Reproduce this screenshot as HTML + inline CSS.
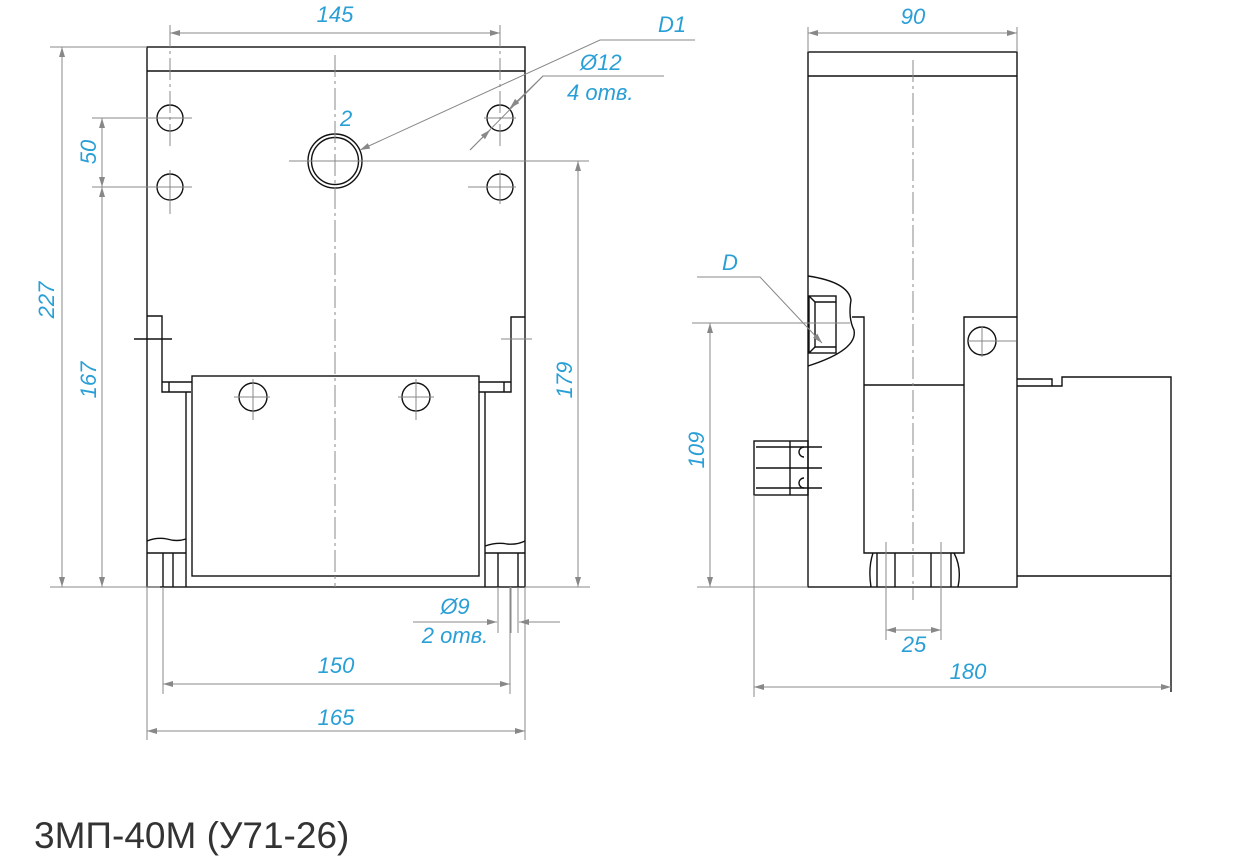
<!DOCTYPE html>
<html><head><meta charset="utf-8"><style>
html,body{margin:0;padding:0;background:#fff;}
svg{display:block}
.k{stroke:#111;stroke-width:1.4;fill:none}
.g{stroke:#888;stroke-width:1;fill:none}
.c{stroke:#888;stroke-width:1;fill:none;stroke-dasharray:22 4 3 4}
.t{fill:#2a9fd6;font-family:"Liberation Sans",sans-serif;font-style:italic;font-size:22px}
</style></head><body>
<svg width="1257" height="859" viewBox="0 0 1257 859" xmlns="http://www.w3.org/2000/svg">
<defs><marker id="a" markerWidth="10" markerHeight="6" refX="10" refY="3" orient="auto-start-reverse" markerUnits="userSpaceOnUse"><path d="M0,0 L10,3 L0,6 z" fill="#888"/></marker></defs>

<!-- LEFT VIEW -->
<rect class="k" x="147" y="47" width="378" height="540"/>
<line class="k" x1="147" y1="71" x2="525" y2="71"/>
<polyline class="k" points="147,316 162,316 162,392 191,392"/>
<line class="k" x1="162" y1="382" x2="192" y2="382"/>
<line class="k" x1="169" y1="382" x2="169" y2="392"/>
<line class="k" x1="186" y1="392" x2="186" y2="587"/>
<polyline class="k" points="525,317 511,317 511,392 479,392"/>
<line class="k" x1="479" y1="382" x2="511" y2="382"/>
<line class="k" x1="504" y1="382" x2="504" y2="392"/>
<line class="k" x1="485" y1="392" x2="485" y2="587"/>
<rect class="k" x="192" y="376" width="287" height="200"/>
<line class="k" x1="147" y1="553" x2="186" y2="553"/>
<line class="k" x1="163" y1="553" x2="163" y2="587"/>
<line class="k" x1="173" y1="553" x2="173" y2="587"/>
<path class="k" d="M147,541 q10,-4 20,-2 q10,3 19,0" stroke-width="1"/>
<line class="k" x1="485" y1="553" x2="525" y2="553"/>
<line class="k" x1="498" y1="553" x2="498" y2="587"/>
<line class="k" x1="518" y1="553" x2="518" y2="587"/>
<path class="k" d="M485,546 q12,-4 22,-2 q10,1 18,-3" stroke-width="1"/>
<g class="k" stroke-width="1.2">
<circle cx="170" cy="118" r="13"/><circle cx="500" cy="118" r="13"/>
<circle cx="170" cy="187" r="13"/><circle cx="500" cy="187" r="13"/>
<circle cx="335" cy="161" r="27"/><circle cx="335" cy="161" r="23.5"/>
<circle cx="253" cy="397" r="14"/><circle cx="416" cy="397" r="14"/>
</g>
<g class="g">
<line x1="154" y1="118" x2="192" y2="118"/><line x1="484" y1="118" x2="516" y2="118"/>
<line x1="154" y1="187" x2="192" y2="187"/><line x1="468" y1="187" x2="516" y2="187"/>
<line x1="500" y1="170" x2="500" y2="204"/><line x1="170" y1="170" x2="170" y2="214"/>
<line x1="234" y1="397" x2="270" y2="397"/><line x1="253" y1="379" x2="253" y2="420"/>
<line x1="398" y1="397" x2="434" y2="397"/><line x1="416" y1="379" x2="416" y2="420"/>
<line x1="289" y1="161" x2="589" y2="161"/>
<line x1="501" y1="339" x2="532" y2="339"/>
</g>
<line class="k" x1="134" y1="339" x2="172" y2="339" stroke-width="1"/>
<line class="c" x1="335" y1="55" x2="335" y2="587"/>
<line class="c" x1="170" y1="25" x2="170" y2="150"/>
<line class="c" x1="500" y1="25" x2="500" y2="150"/>
<g class="g">
<line x1="170" y1="33" x2="500" y2="33" marker-start="url(#a)" marker-end="url(#a)"/>
<line x1="50" y1="47" x2="147" y2="47"/><line x1="50" y1="587" x2="160" y2="587"/>
<line x1="62" y1="47" x2="62" y2="587" marker-start="url(#a)" marker-end="url(#a)"/>
<line x1="92" y1="118" x2="160" y2="118"/><line x1="92" y1="187" x2="160" y2="187"/>
<line x1="102" y1="118" x2="102" y2="187" marker-start="url(#a)" marker-end="url(#a)"/>
<line x1="102" y1="187" x2="102" y2="587" marker-start="url(#a)" marker-end="url(#a)"/>
<line x1="525" y1="587" x2="590" y2="587"/>
<line x1="578" y1="161" x2="578" y2="587" marker-start="url(#a)" marker-end="url(#a)"/>
<line x1="163" y1="587" x2="163" y2="694"/><line x1="510" y1="587" x2="510" y2="694"/>
<line x1="163" y1="684" x2="510" y2="684" marker-start="url(#a)" marker-end="url(#a)"/>
<line x1="147" y1="587" x2="147" y2="740"/><line x1="525" y1="587" x2="525" y2="740"/>
<line x1="147" y1="731" x2="525" y2="731" marker-start="url(#a)" marker-end="url(#a)"/>
<line x1="498" y1="587" x2="498" y2="633"/><line x1="511" y1="587" x2="511" y2="633"/><line x1="518" y1="587" x2="518" y2="633"/>
<line x1="413" y1="622" x2="497" y2="622" marker-end="url(#a)"/>
<line x1="560" y1="622" x2="519" y2="622" marker-end="url(#a)"/>
<polyline points="695,40 600,40 360,150" marker-end="url(#a)"/>
<polyline points="664,76 543,76 470,150"/>
<line x1="543" y1="76" x2="510" y2="108" marker-end="url(#a)"/>
<line x1="470" y1="150" x2="490" y2="130" marker-end="url(#a)"/>
</g>
<text class="t" x="335" y="22" text-anchor="middle">145</text>
<text class="t" x="658" y="32">D1</text>
<text class="t" x="580" y="70">Ø12</text>
<text class="t" x="567" y="100">4 отв.</text>
<text class="t" x="340" y="126">2</text>
<text class="t" x="54" y="300" text-anchor="middle" transform="rotate(-90 54 300)">227</text>
<text class="t" x="96" y="152" text-anchor="middle" transform="rotate(-90 96 152)">50</text>
<text class="t" x="96" y="380" text-anchor="middle" transform="rotate(-90 96 380)">167</text>
<text class="t" x="572" y="380" text-anchor="middle" transform="rotate(-90 572 380)">179</text>
<text class="t" x="455" y="614" text-anchor="middle">Ø9</text>
<text class="t" x="455" y="643" text-anchor="middle">2 отв.</text>
<text class="t" x="336" y="673" text-anchor="middle">150</text>
<text class="t" x="336" y="725" text-anchor="middle">165</text>

<!-- RIGHT VIEW -->
<rect class="k" x="808" y="52" width="209" height="535"/>
<line class="k" x1="808" y1="76" x2="1017" y2="76"/>
<line x1="808" y1="27" x2="808" y2="52" stroke="#888" stroke-width="1"/>
<line x1="1017" y1="27" x2="1017" y2="52" stroke="#888" stroke-width="1"/>
<polyline class="k" points="852,317 864,317 864,553 964,553 964,317 1017,317"/>
<line class="k" x1="864" y1="385" x2="964" y2="385"/>
<circle class="k" cx="982" cy="341" r="14" stroke-width="1.2"/>
<line class="g" x1="968" y1="341" x2="1016" y2="341"/><line class="g" x1="982" y1="326" x2="982" y2="357"/>
<polyline class="k" points="1017,379 1052,379 1052,386 1062,386 1062,377 1171,377 1171,692"/>
<line class="k" x1="1017" y1="386" x2="1052" y2="386"/>
<line class="k" x1="1017" y1="576" x2="1171" y2="576"/>
<path class="k" d="M808,276 Q848,282 851,300 Q848,318 854,330 Q858,350 808,366" stroke-width="1"/>
<rect class="k" x="809" y="296" width="27" height="57"/>
<line class="k" x1="815" y1="302" x2="815" y2="347"/>
<line class="k" x1="809" y1="296" x2="815" y2="302"/><line class="k" x1="809" y1="353" x2="815" y2="347"/>
<line class="k" x1="815" y1="302" x2="836" y2="302"/><line class="k" x1="815" y1="347" x2="836" y2="347"/>
<rect class="k" x="754" y="441" width="54" height="54"/>
<line class="k" x1="756" y1="447" x2="822" y2="447"/>
<line class="k" x1="756" y1="468" x2="822" y2="468"/>
<line class="k" x1="756" y1="488" x2="822" y2="488"/>
<line class="k" x1="790" y1="441" x2="790" y2="495"/>
<path class="k" d="M804,447 a5,5 0 0 0 0,10 M804,478 a5,5 0 0 0 0,10" stroke-width="1"/>
<path class="k" d="M873,553 q-5,15 -2,34 M954,553 q8,15 4,34" stroke-width="1"/>
<line class="k" x1="877" y1="553" x2="877" y2="587"/><line class="k" x1="895" y1="553" x2="895" y2="587"/>
<line class="k" x1="931" y1="553" x2="931" y2="587"/><line class="k" x1="951" y1="553" x2="951" y2="587"/>
<line class="c" x1="913" y1="60" x2="913" y2="600"/>
<g class="g">
<line x1="808" y1="33" x2="1017" y2="33" marker-start="url(#a)" marker-end="url(#a)"/>
<polyline points="697,277 760,277 822,343" marker-end="url(#a)"/>
<line x1="692" y1="323" x2="850" y2="323"/>
<line x1="697" y1="587" x2="808" y2="587"/>
<line x1="710" y1="323" x2="710" y2="587" marker-start="url(#a)" marker-end="url(#a)"/>
<line x1="754" y1="495" x2="754" y2="697"/>
<line x1="754" y1="687" x2="1171" y2="687" marker-start="url(#a)" marker-end="url(#a)"/>
<line x1="886" y1="542" x2="886" y2="640"/><line x1="941" y1="542" x2="941" y2="640"/>
<line x1="886" y1="630" x2="941" y2="630" marker-start="url(#a)" marker-end="url(#a)"/>
</g>
<text class="t" x="913" y="24" text-anchor="middle">90</text>
<text class="t" x="722" y="270">D</text>
<text class="t" x="704" y="450" text-anchor="middle" transform="rotate(-90 704 450)">109</text>
<text class="t" x="914" y="652" text-anchor="middle">25</text>
<text class="t" x="968" y="679" text-anchor="middle">180</text>

<text x="34" y="848" font-family="'Liberation Sans',sans-serif" font-size="37" fill="#333">3МП-40М (У71-26)</text>
</svg>
</body></html>
